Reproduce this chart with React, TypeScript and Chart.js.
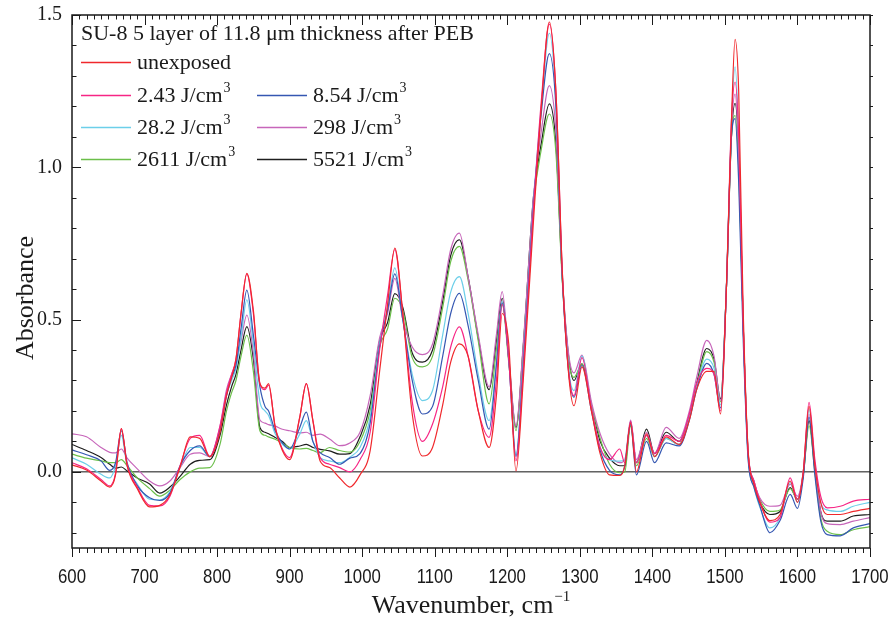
import React, { useEffect, useRef } from 'react';
import { Chart, registerables } from 'chart.js';
Chart.register(...registerables);

// ---------- data ----------
const wavenumbers = [600, 620, 640, 652, 660, 668, 676, 690, 707, 721, 735, 749, 763, 776, 790, 804, 813, 820, 826, 833, 841, 850, 859, 866, 871, 880, 890, 900, 914, 923, 932, 942, 955, 969, 983, 997, 1011, 1024, 1035, 1045, 1056, 1069, 1083, 1097, 1111, 1122, 1134, 1146, 1160, 1175, 1185, 1193, 1202, 1212, 1222, 1236, 1247, 1258, 1267, 1276, 1285, 1292, 1303, 1316, 1328, 1341, 1355, 1362, 1370, 1378, 1392, 1403, 1419, 1437, 1451, 1461, 1475, 1485, 1494, 1502, 1509, 1514, 1519, 1525, 1532, 1540, 1548, 1562, 1576, 1590, 1600, 1608, 1616, 1624, 1632, 1641, 1659, 1677, 1700];

const unexposed = [0.023, 0.006, -0.03, -0.05, -0.01, 0.142, 0.02, -0.055, -0.115, -0.11, -0.075, 0.016, 0.115, 0.11, 0.05, 0.13, 0.25, 0.31, 0.37, 0.52, 0.652, 0.53, 0.29, 0.275, 0.29, 0.146, 0.07, 0.04, 0.18, 0.29, 0.168, 0.036, 0.014, -0.02, -0.05, -0.01, 0.07, 0.33, 0.55, 0.735, 0.52, 0.19, 0.052, 0.08, 0.22, 0.36, 0.42, 0.38, 0.2, 0.08, 0.25, 0.52, 0.42, 0.003, 0.3, 0.82, 1.2, 1.477, 1.25, 0.65, 0.31, 0.217, 0.345, 0.2, 0.06, -0.01, -0.012, 0.02, 0.16, 0.0, 0.125, 0.05, 0.115, 0.09, 0.17, 0.27, 0.33, 0.33, 0.19, 0.6, 1.15, 1.42, 1.25, 0.55, 0.07, -0.04, -0.1, -0.16, -0.14, -0.03, -0.1, 0.0, 0.215, 0.02, -0.1, -0.14, -0.14, -0.13, -0.12];

const dose243 = [0.03, 0.01, -0.025, -0.046, -0.005, 0.142, 0.025, -0.05, -0.11, -0.112, -0.08, 0.02, 0.11, 0.12, 0.05, 0.15, 0.26, 0.32, 0.37, 0.52, 0.65, 0.52, 0.29, 0.27, 0.285, 0.15, 0.075, 0.047, 0.18, 0.29, 0.17, 0.047, 0.025, 0.014, 0.0, 0.04, 0.13, 0.4, 0.58, 0.73, 0.52, 0.23, 0.1, 0.157, 0.28, 0.41, 0.476, 0.38, 0.2, 0.113, 0.3, 0.55, 0.37, 0.036, 0.33, 0.86, 1.22, 1.47, 1.25, 0.65, 0.32, 0.25, 0.375, 0.21, 0.08, 0.04, 0.075, 0.03, 0.165, 0.03, 0.12, 0.06, 0.12, 0.1, 0.19, 0.29, 0.34, 0.32, 0.2, 0.6, 1.15, 1.28, 1.1, 0.5, 0.06, -0.03, -0.095, -0.165, -0.15, -0.02, -0.09, 0.0, 0.228, 0.04, -0.08, -0.118, -0.113, -0.096, -0.09];

const dose854 = [0.072, 0.056, 0.036, 0.005, 0.03, 0.135, 0.03, -0.045, -0.085, -0.094, -0.07, 0.02, 0.07, 0.085, 0.05, 0.14, 0.25, 0.31, 0.35, 0.47, 0.597, 0.45, 0.28, 0.215, 0.2, 0.135, 0.095, 0.075, 0.146, 0.196, 0.1, 0.063, 0.047, 0.025, 0.045, 0.06, 0.16, 0.41, 0.53, 0.65, 0.5, 0.3, 0.19, 0.215, 0.38, 0.52, 0.586, 0.48, 0.3, 0.14, 0.35, 0.555, 0.37, 0.05, 0.35, 0.87, 1.18, 1.373, 1.2, 0.63, 0.32, 0.245, 0.35, 0.2, 0.07, 0.005, -0.01, 0.02, 0.155, -0.01, 0.1, 0.03, 0.095, 0.085, 0.17, 0.27, 0.356, 0.32, 0.21, 0.6, 1.1, 1.16, 0.95, 0.45, 0.04, -0.05, -0.11, -0.2, -0.16, -0.074, -0.12, -0.02, 0.18, -0.01, -0.16, -0.206, -0.21, -0.184, -0.17];

const dose282 = [0.046, 0.025, -0.008, -0.02, 0.02, 0.12, 0.02, -0.04, -0.09, -0.092, -0.065, 0.015, 0.08, 0.08, 0.05, 0.14, 0.25, 0.3, 0.34, 0.44, 0.565, 0.42, 0.23, 0.2, 0.185, 0.125, 0.09, 0.075, 0.124, 0.168, 0.1, 0.047, 0.036, 0.03, 0.048, 0.08, 0.18, 0.42, 0.54, 0.67, 0.5, 0.32, 0.234, 0.267, 0.45, 0.59, 0.641, 0.52, 0.32, 0.168, 0.36, 0.56, 0.37, 0.055, 0.36, 0.88, 1.2, 1.44, 1.22, 0.64, 0.33, 0.267, 0.38, 0.21, 0.08, 0.04, 0.035, 0.04, 0.16, 0.03, 0.12, 0.05, 0.11, 0.09, 0.18, 0.28, 0.37, 0.34, 0.22, 0.6, 1.15, 1.33, 1.1, 0.5, 0.05, -0.05, -0.115, -0.184, -0.15, -0.035, -0.1, 0.0, 0.205, 0.03, -0.1, -0.125, -0.13, -0.113, -0.1];

const dose298 = [0.125, 0.115, 0.08, 0.064, 0.062, 0.075, 0.045, 0.01, -0.03, -0.046, -0.03, 0.014, 0.058, 0.062, 0.05, 0.15, 0.27, 0.32, 0.36, 0.43, 0.515, 0.39, 0.17, 0.16, 0.155, 0.15, 0.14, 0.135, 0.128, 0.13, 0.12, 0.124, 0.108, 0.086, 0.095, 0.13, 0.25, 0.44, 0.52, 0.635, 0.5, 0.41, 0.385, 0.42, 0.58, 0.73, 0.784, 0.64, 0.45, 0.279, 0.45, 0.592, 0.38, 0.15, 0.42, 0.9, 1.12, 1.268, 1.12, 0.64, 0.38, 0.325, 0.383, 0.23, 0.125, 0.058, 0.03, 0.04, 0.17, 0.04, 0.13, 0.06, 0.146, 0.11, 0.2, 0.31, 0.432, 0.38, 0.235, 0.6, 1.12, 1.24, 1.05, 0.5, 0.07, -0.03, -0.085, -0.113, -0.11, -0.04, -0.08, 0.0, 0.19, 0.02, -0.13, -0.17, -0.173, -0.162, -0.15];

const dose2611 = [0.058, 0.045, 0.036, 0.03, 0.03, 0.04, 0.02, -0.02, -0.055, -0.08, -0.06, -0.025, 0.0, 0.012, 0.014, 0.09, 0.2, 0.26, 0.3, 0.38, 0.449, 0.33, 0.135, 0.12, 0.115, 0.107, 0.095, 0.08, 0.075, 0.077, 0.07, 0.063, 0.08, 0.07, 0.065, 0.1, 0.2, 0.41, 0.47, 0.57, 0.53, 0.375, 0.345, 0.38, 0.54, 0.69, 0.74, 0.63, 0.43, 0.223, 0.4, 0.55, 0.36, 0.135, 0.41, 0.88, 1.06, 1.175, 1.05, 0.62, 0.36, 0.31, 0.355, 0.22, 0.11, 0.025, -0.003, 0.0, 0.15, 0.02, 0.11, 0.05, 0.11, 0.09, 0.18, 0.28, 0.395, 0.36, 0.23, 0.6, 1.1, 1.17, 1.0, 0.5, 0.06, -0.03, -0.09, -0.13, -0.125, -0.055, -0.09, -0.01, 0.152, 0.0, -0.15, -0.195, -0.206, -0.19, -0.18];

const dose5521 = [0.09, 0.07, 0.047, 0.025, 0.012, 0.016, 0.003, -0.02, -0.04, -0.07, -0.05, -0.015, 0.025, 0.038, 0.04, 0.12, 0.22, 0.28, 0.32, 0.4, 0.477, 0.37, 0.146, 0.13, 0.125, 0.113, 0.1, 0.08, 0.085, 0.09, 0.08, 0.074, 0.069, 0.058, 0.06, 0.115, 0.22, 0.43, 0.49, 0.585, 0.54, 0.39, 0.36, 0.4, 0.56, 0.71, 0.762, 0.64, 0.44, 0.27, 0.43, 0.57, 0.37, 0.146, 0.41, 0.9, 1.08, 1.208, 1.08, 0.63, 0.37, 0.3, 0.355, 0.22, 0.1, 0.045, 0.02, 0.02, 0.165, 0.03, 0.14, 0.06, 0.13, 0.1, 0.19, 0.29, 0.405, 0.37, 0.24, 0.6, 1.1, 1.21, 1.05, 0.5, 0.06, -0.04, -0.1, -0.14, -0.13, -0.052, -0.09, -0.01, 0.168, 0.01, -0.13, -0.162, -0.162, -0.145, -0.14];

const seriesLabels = ['unexposed', '2.43', '8.54', '28.2', '298', '2611', '5521'];
const seriesColors = ['#f0282c', '#f72585', '#3557b2', '#6ccfe9', '#c766ba', '#6bbf4a', '#1e1e1e'];
const xTickValues = [600, 700, 800, 900, 1000, 1100, 1200, 1300, 1400, 1500, 1600, 1700];
const yTickValues = [0, 0.5, 1.0, 1.5];
const baselineValue = 0;
const legendTitle = 'SU-8 5 layer of 11.8 \u03bcm thickness after PEB';
const unitText = 'J/cm';
const unitSup = '3';
const xTitle = 'Wavenumber, cm';
const xTitleSup = '\u22121';
const yTitle = 'Absorbance';

const allSeries = [unexposed, dose243, dose854, dose282, dose298, dose2611, dose5521];

const SERIF = '"Liberation Serif", "Times New Roman", serif';
const SANS = '"Liberation Sans", Arial, sans-serif';

const decorPlugin = {
  id: 'decor',
  afterDatasetsDraw(chart: any) {
    const { ctx, chartArea, scales } = chart;
    const { left, right, top, bottom } = chartArea;
    const x = scales.x;
    const y = scales.y;
    ctx.save();
    ctx.strokeStyle = '#1a1a1a';
    ctx.lineWidth = 1.5;
    ctx.strokeRect(left, top, right - left, bottom - top);
    ctx.lineWidth = 1;
    ctx.beginPath();
    for (let w = 600; w <= 1700; w += 10) {
      const px = Math.round(x.getPixelForValue(w)) + 0.5;
      const major = w % 100 === 0;
      ctx.moveTo(px, top);
      ctx.lineTo(px, top + (major ? 10 : 4.5));
      ctx.moveTo(px, bottom);
      ctx.lineTo(px, bottom + (major ? 9 : 5));
    }
    for (let k = -2; k <= 15; k++) {
      const py = Math.round(y.getPixelForValue(k / 10)) + 0.5;
      const major = k % 5 === 0;
      ctx.moveTo(left, py);
      ctx.lineTo(left + (major ? 9 : 4.5), py);
      ctx.moveTo(right, py);
      ctx.lineTo(right + 3, py);
    }
    ctx.stroke();
    ctx.restore();
  },
  afterDraw(chart: any) {
    const { ctx, chartArea, scales } = chart;
    const { left, right, top } = chartArea;
    ctx.save();
    ctx.fillStyle = '#1a1a1a';
    ctx.textBaseline = 'alphabetic';

    // x tick labels (condensed sans, as in the original)
    ctx.font = `21px ${SANS}`;
    ctx.textAlign = 'center';
    xTickValues.forEach((v) => {
      const px = scales.x.getPixelForValue(v);
      ctx.save();
      ctx.translate(px, 583);
      ctx.scale(0.8, 1);
      ctx.fillText(String(v), 0, 0);
      ctx.restore();
    });

    // legend
    const lx = left + 9;
    ctx.textAlign = 'left';
    ctx.font = `22px ${SERIF}`;
    ctx.fillText(legendTitle, lx, top + 25);
    const rowY = [62, 95, 127, 159];
    const cells: Array<[number, number, number]> = [
      [0, 0, 0], [1, 1, 0], [2, 1, 1], [3, 2, 0], [4, 2, 1], [5, 3, 0], [6, 3, 1],
    ];
    const colX = [lx, lx + 176];
    cells.forEach(([si, row, col]) => {
      const yy = rowY[row] + 0.5;
      const x0 = colX[col];
      ctx.strokeStyle = seriesColors[si];
      ctx.lineWidth = 1.3;
      ctx.beginPath();
      ctx.moveTo(x0, yy);
      ctx.lineTo(x0 + 50, yy);
      ctx.stroke();
      ctx.fillStyle = '#1a1a1a';
      ctx.font = `22px ${SERIF}`;
      const tx = x0 + 56;
      const ty = rowY[row] + 7;
      if (si === 0) {
        ctx.fillText(seriesLabels[si], tx, ty);
      } else {
        const main = `${seriesLabels[si]} ${unitText}`;
        ctx.fillText(main, tx, ty);
        const w = ctx.measureText(main).width;
        ctx.font = `14px ${SERIF}`;
        ctx.fillText(unitSup, tx + w + 1, ty - 10);
      }
    });

    // x title
    ctx.font = `26px ${SERIF}`;
    const w1 = ctx.measureText(xTitle).width;
    ctx.font = `15px ${SERIF}`;
    const w2 = ctx.measureText(xTitleSup).width;
    const cx = (left + right) / 2;
    const sx = cx - (w1 + w2 + 1) / 2;
    ctx.font = `26px ${SERIF}`;
    ctx.fillText(xTitle, sx, 613);
    ctx.font = `15px ${SERIF}`;
    ctx.fillText(xTitleSup, sx + w1 + 1, 601);

    // y title
    ctx.translate(33, 298);
    ctx.rotate(-Math.PI / 2);
    ctx.font = `26px ${SERIF}`;
    ctx.textAlign = 'center';
    ctx.fillText(yTitle, 0, 0);
    ctx.restore();
  },
};

export default function App() {
  const canvasRef = useRef<HTMLCanvasElement | null>(null);

  useEffect(() => {
    if (!canvasRef.current) return;
    const datasets: any[] = allSeries.map((vals, i) => ({
      label: seriesLabels[i],
      data: wavenumbers.map((w, j) => ({ x: w, y: vals[j] })),
      borderColor: seriesColors[i],
      backgroundColor: seriesColors[i],
      borderWidth: 1.2,
      pointRadius: 0,
      cubicInterpolationMode: 'monotone',
      fill: false,
    }));
    datasets.push({
      label: 'zero',
      data: [
        { x: wavenumbers[0], y: baselineValue },
        { x: wavenumbers[wavenumbers.length - 1], y: baselineValue },
      ],
      borderColor: '#111111',
      borderWidth: 1,
      pointRadius: 0,
      fill: false,
    });

    const chart = new Chart(canvasRef.current, {
      type: 'line',
      data: { datasets },
      options: {
        responsive: true,
        maintainAspectRatio: false,
        animation: false,
        devicePixelRatio: 1,
        layout: { padding: { top: 15, right: 26, left: 0, bottom: 0 } },
        plugins: {
          legend: { display: false },
          tooltip: { enabled: false },
          title: { display: false },
        },
        scales: {
          x: {
            type: 'linear',
            min: 600,
            max: 1700,
            grid: { display: false, drawTicks: false },
            border: { display: false },
            afterBuildTicks: (s: any) => {
              s.ticks = xTickValues.map((v) => ({ value: v }));
            },
            afterFit: (s: any) => {
              s.height = 73;
              s.paddingLeft = 0;
              s.paddingRight = 0;
            },
            ticks: { display: false },
          },
          y: {
            type: 'linear',
            min: -0.25,
            max: 1.5,
            grid: { display: false, drawTicks: false },
            border: { display: false },
            afterBuildTicks: (s: any) => {
              s.ticks = yTickValues.map((v) => ({ value: v }));
            },
            afterFit: (s: any) => {
              s.width = 72;
              s.paddingTop = 0;
              s.paddingBottom = 0;
            },
            ticks: {
              padding: 10,
              color: '#1a1a1a',
              font: { family: SERIF, size: 20 },
              callback: (v: any) => Number(v).toFixed(1),
            },
          },
        },
      } as any,
      plugins: [decorPlugin],
    });
    return () => chart.destroy();
  }, []);

  return (
    <div style={{ position: 'fixed', left: 0, top: 0, width: 896, height: 621, background: '#fff' }}>
      <canvas ref={canvasRef} />
    </div>
  );
}
